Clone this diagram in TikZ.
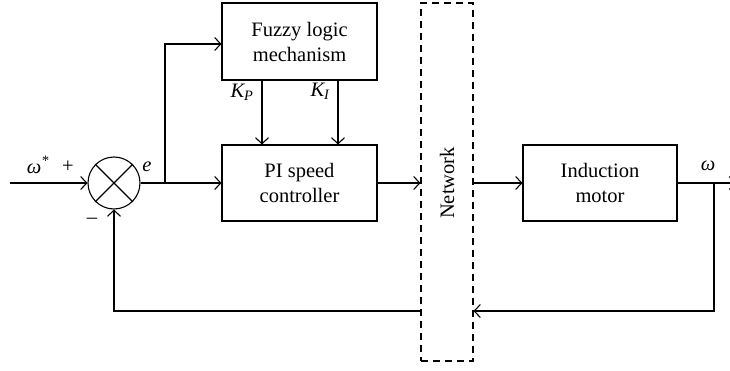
\documentclass[tikz,border=0pt]{standalone}
\usepackage{fontspec}
\setmainfont{Liberation Serif}
\usetikzlibrary{arrows.meta}
\begin{document}
\begin{tikzpicture}[x=1pt,y=-1pt,
  line width=1.1pt,
  font=\fontsize{20.5}{25}\selectfont,
  arr/.style={-{Straight Barb[length=6pt,width=13pt,line width=1.1pt]}},
  blk/.style={draw,rectangle,inner sep=0pt,align=center},
  lbl/.style={inner sep=0pt}]
\useasboundingbox (0,0) rectangle (730,371);
% blocks
\node[blk,minimum width=155pt,minimum height=77pt] (fuzzy) at (299.5,41.5) {Fuzzy logic\\mechanism};
\node[blk,minimum width=155pt,minimum height=76pt] (pi) at (299.5,183) {PI speed\\controller};
\node[blk,dashed,dash pattern=on 7pt off 5pt,minimum width=52pt,minimum height=358pt] (net) at (447,182) {};
\node[lbl,rotate=90] (nettext) at (447,183) {Network};
\node[blk,minimum width=154pt,minimum height=76pt] (motor) at (600,183) {Induction\\motor};
\node[draw,circle,minimum size=52pt,inner sep=0pt] (sum) at (114,183) {};
\draw (sum.north west) -- (sum.south east);
\draw (sum.north east) -- (sum.south west);
% coordinates
\coordinate (in) at (10,183);
\coordinate (br) at (165,183);
\coordinate (top) at (165,44);
\coordinate (kp) at (262,80);
\coordinate (ki) at (338,80);
\coordinate (br2) at (714,183);
\coordinate (out) at (736,183);
\coordinate (fbr) at (714,311);
\coordinate (fbl) at (114,311);
% connectors
\draw[arr] (in) -- (sum.west);
\draw (sum.east) -- (br);
\draw[arr] (br) -- (pi.west);
\draw[arr] (br) -- (top) -- (top -| fuzzy.west);
\draw[arr] (kp) -- (kp |- pi.north);
\draw[arr] (ki) -- (ki |- pi.north);
\draw[arr] (pi.east) -- (pi.east -| net.west);
\draw[arr] (pi.east -| net.east) -- (motor.west);
\draw[arr] (motor.east) -- (out);
\draw[arr] (br2) -- (fbr) -- (fbr -| net.east);
\draw[arr] (fbr -| net.west) -- (fbl) -- (sum.south);
% labels
\node[lbl] (wstar) at (38,165) {\itshape ω\textsuperscript{*}};
\node[lbl] (plus) at (68,167) {+};
\node[lbl] (e) at (147,167) {\itshape e};
\node[lbl] (minus) at (92,221) {–};
\node[lbl] (kpl) at (242,92) {\itshape K\textsubscript{P}};
\node[lbl] (kil) at (320,91) {\itshape K\textsubscript{I}};
\node[lbl] (w) at (708,166) {\itshape ω};
\end{tikzpicture}
\end{document}
